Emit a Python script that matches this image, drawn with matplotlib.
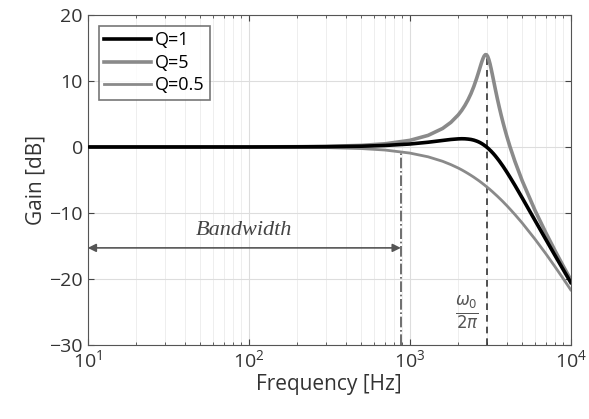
import matplotlib.pyplot as plt
from matplotlib import rcParams

rcParams['font.family'] = ['Open Sans', 'DejaVu Sans']
rcParams['mathtext.fontset'] = 'dejavusans'

# 周波数 [Hz] と各Qのゲイン [dB]
freq = [10, 30, 100, 200, 300, 500, 700, 1000, 1300, 1600,
        1800, 2000, 2100, 2200, 2300, 2400, 2500, 2600, 2650, 2700,
        2750, 2800, 2850, 2900, 2950, 3000, 3050, 3100, 3150, 3200,
        3250, 3300, 3400, 3500, 3600, 3700, 3800, 3900, 4000, 4200,
        4500, 5000, 6000, 7000, 8000, 9000, 10000]
gain_q1 = [0.0, 0.0, 0.0, 0.02, 0.04, 0.12, 0.23, 0.45, 0.72, 0.99,
           1.14, 1.23, 1.25, 1.24, 1.20, 1.14, 1.04, 0.90, 0.82, 0.73,
           0.63, 0.52, 0.40, 0.27, 0.14, 0.0, -0.15, -0.30, -0.47, -0.63,
           -0.81, -0.98, -1.35, -1.74, -2.13, -2.54, -2.94, -3.36, -3.77, -4.60,
           -5.81, -7.74, -11.14, -14.01, -16.48, -18.63, -20.54]
gain_q5 = [0.0, 0.0, 0.01, 0.04, 0.09, 0.24, 0.48, 1.00, 1.76, 2.81,
           3.73, 4.86, 5.53, 6.29, 7.14, 8.09, 9.17, 10.37, 11.00, 11.64,
           12.28, 12.89, 13.41, 13.80, 14.00, 13.98, 13.72, 13.25, 12.63, 11.90,
           11.13, 10.34, 8.78, 7.33, 6.00, 4.78, 3.67, 2.65, 1.70, 0.0,
           -2.18, -5.15, -9.62, -13.00, -15.76, -18.09, -20.11]
gain_q05 = [0.0, -0.001, -0.01, -0.04, -0.09, -0.24, -0.46, -0.92, -1.49, -2.17,
            -2.67, -3.19, -3.46, -3.74, -4.02, -4.30, -4.58, -4.87, -5.01, -5.15,
            -5.30, -5.44, -5.59, -5.73, -5.88, -6.02, -6.17, -6.31, -6.45, -6.60,
            -6.74, -6.89, -7.18, -7.46, -7.75, -8.03, -8.31, -8.60, -8.87, -9.43,
            -10.24, -11.54, -13.98, -16.18, -18.18, -20.0, -21.66]
labels = ['Q=1', 'Q=5', 'Q=0.5']

f_bw = 880     # 帯域幅
f_0 = 3000     # 共振周波数
bw_level = -15.3

fig = plt.figure(figsize=(5.89, 4.19), dpi=100)
ax = fig.add_axes([0.149, 0.177, 0.82, 0.787])

ax.plot(freq, gain_q1, color='black', lw=2.6, label=labels[0], zorder=5)
ax.plot(freq, gain_q5, color='#8a8a8a', lw=2.6, label=labels[1], zorder=4)
ax.plot(freq, gain_q05, color='#8a8a8a', lw=2.0, label=labels[2], zorder=4)

ax.plot([f_bw, f_bw], [-30, -0.8], color='#555555', lw=1.2, ls='-.')
ax.plot([f_0, f_0], [-30, 13.98], color='#333333', lw=1.2, ls=(0, (4, 3)))

ax.annotate('', xy=(f_bw, bw_level), xytext=(10, bw_level),
            arrowprops=dict(arrowstyle='<|-|>', color='#555555', lw=1.2,
                            shrinkA=0, shrinkB=0, mutation_scale=12))
ax.text(94, -12.6, 'Bandwidth', ha='center', va='center', fontsize=16,
        style='italic', family='Liberation Serif', color='#444444')
ax.text(2250, -25.3, r'$\frac{\omega_0}{2\pi}$', ha='center', va='center',
        fontsize=17, color='#555555')

ax.set_xscale('log')
ax.set_xlim(10, 10000)
ax.set_ylim(-30, 20)
ax.set_yticks([-30, -20, -10, 0, 10, 20])
ax.grid(True, which='major', color='#dddddd', lw=0.8)
ax.grid(True, which='minor', color='#eeeeee', lw=0.7)
ax.tick_params(which='both', direction='in', top=True, right=True, colors='#444444',
               labelcolor='#333333', labelsize=14)
ax.tick_params(which='major', length=4)
ax.tick_params(which='minor', length=2)
for s in ax.spines.values():
    s.set_color('#555555')

ax.set_xlabel('Frequency [Hz]', fontsize=15, color='#333333', labelpad=2)
ax.set_ylabel('Gain [dB]', fontsize=15, color='#333333', labelpad=2)

leg = ax.legend(loc='upper left', fontsize=13, frameon=True, fancybox=False,
                edgecolor='#555555', handlelength=2.6, handletextpad=0.2,
                borderpad=0.3, labelspacing=0.25, borderaxespad=0.6)
leg.get_frame().set_linewidth(1.2)

fig.savefig('out.png', dpi=100)
